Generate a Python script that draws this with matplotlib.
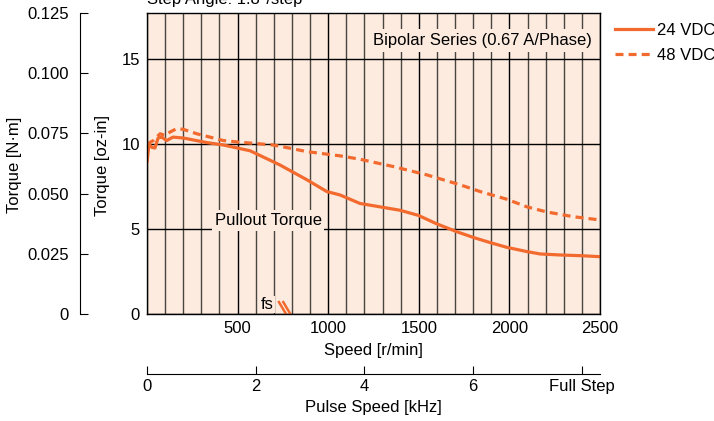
import matplotlib.pyplot as plt
from matplotlib.ticker import MultipleLocator
from matplotlib.lines import Line2D

plt.rcParams['font.family'] = ['Liberation Sans', 'DejaVu Sans']
plt.rcParams['font.size'] = 12

# 24 VDC pullout torque [oz-in] vs speed [r/min]
speed_24 = [0, 11, 26, 44, 61, 81, 109, 143, 199, 330, 420, 568, 695, 734, 881, 992,
            1065, 1175, 1396, 1497, 1599, 1709, 1801, 1893, 1985, 2096, 2169, 2279, 2390, 2500]
torque_24 = [8.9, 10.0, 9.8, 9.76, 10.35, 10.4, 10.2, 10.4, 10.35, 10.08, 9.94, 9.6, 8.96, 8.76, 7.9, 7.2,
             7.0, 6.5, 6.1, 5.8, 5.3, 4.84, 4.5, 4.2, 3.92, 3.67, 3.53, 3.47, 3.43, 3.37]

# 48 VDC
speed_48 = [0, 35, 72, 99, 127, 164, 200, 274, 421, 513, 695, 789, 881, 1065, 1175,
            1359, 1544, 1727, 1838, 1985, 2096, 2206, 2353, 2500]
torque_48 = [10.0, 10.2, 10.6, 10.5, 10.7, 10.9, 10.86, 10.6, 10.2, 10.1, 9.94, 9.75, 9.55, 9.3, 9.1,
             8.67, 8.18, 7.6, 7.2, 6.75, 6.3, 6.0, 5.72, 5.53]

# fs mark (two short strokes)
fs_x1 = [728, 767]
fs_x2 = [752, 791]
fs_y = [0.7, 0]

nm_ticks = [0, 0.025, 0.05, 0.075, 0.1, 0.125]
nm_labels = ['0', '0.025', '0.050', '0.075', '0.100', '0.125']
khz_ticks = [0, 2, 4, 6, 8]
khz_labels = ['0', '2', '4', '6', 'Full Step']

NM = 141.612  # oz-in per N·m
orange = '#f26a2e'
bg = '#fdebdf'
dash = (2.5, 1.6)

fig = plt.figure(figsize=(7.14, 4.21), dpi=100)
ax = fig.add_axes([0.2059, 0.2542, 0.6345, 0.7150])
ax.set_facecolor(bg)
ax.set_xlim(0, 2500)
ax.set_ylim(0, 0.125 * NM)

ax.set_yticks([0, 5, 10, 15])
ax.set_xticks([500, 1000, 1500, 2000, 2500])
ax.xaxis.set_minor_locator(MultipleLocator(100))
ax.tick_params(which='both', length=0, pad=5)
ax.grid(which='major', color='black', lw=1)
ax.grid(which='minor', axis='x', color='#4a4440', lw=1)
for s in ax.spines.values():
    s.set_color('black')
    s.set_linewidth(1)

ax.plot(speed_24, torque_24, color=orange, lw=2.3, solid_capstyle='butt')
ax.plot(speed_48, torque_48, color=orange, lw=2.3, dashes=dash)
ax.plot(fs_x1, fs_y, color=orange, lw=1.8)
ax.plot(fs_x2, fs_y, color=orange, lw=1.8)

ax.text(1849, 16.1, 'Bipolar Series (0.67 A/Phase)', ha='center', va='center',
        bbox=dict(facecolor=bg, edgecolor='none', pad=3), zorder=3)
ax.text(668, 5.5, 'Pullout Torque', ha='center', va='center',
        bbox=dict(facecolor=bg, edgecolor='none', pad=2), zorder=3)
ax.text(665, 0.55, 'fs', ha='center', va='center',
        bbox=dict(facecolor=bg, edgecolor='none', pad=1), zorder=3)

ax.set_xlabel('Speed [r/min]', labelpad=5)

nm_ax = ax.secondary_yaxis(-0.148, functions=(lambda v: v / NM, lambda v: v * NM))
nm_ax.set_yticks(nm_ticks, labels=nm_labels)
nm_ax.tick_params(direction='in', length=6, pad=8)

pulse_ax = ax.secondary_xaxis(-0.199, functions=(lambda r: r / 300, lambda k: k * 300))
pulse_ax.set_xticks(khz_ticks, labels=khz_labels)
pulse_ax.tick_params(direction='in', length=6, pad=4)
pulse_ax.set_xlabel('Pulse Speed [kHz]', labelpad=4)

fig.text(15 / 714, 1 - 165 / 421, 'Torque [N·m]', rotation=90, ha='center', va='center')
fig.text(103 / 714, 1 - 165 / 421, 'Torque [oz-in]', rotation=90, ha='center', va='center')
fig.text(147 / 714, 1 - 4 / 421, 'Step Angle: 1.8°/step', ha='left', va='baseline')

handles = [Line2D([], [], color=orange, lw=2.3),
           Line2D([], [], color=orange, lw=2.3, dashes=dash)]
fig.legend(handles, ['24 VDC', '48 VDC'], loc='upper left',
           bbox_to_anchor=(615 / 714, 1 - 23 / 421), frameon=False,
           handlelength=2.3, handletextpad=0.2, labelspacing=0.58,
           borderpad=0, borderaxespad=0)

fig.savefig('out.png', dpi=100)
